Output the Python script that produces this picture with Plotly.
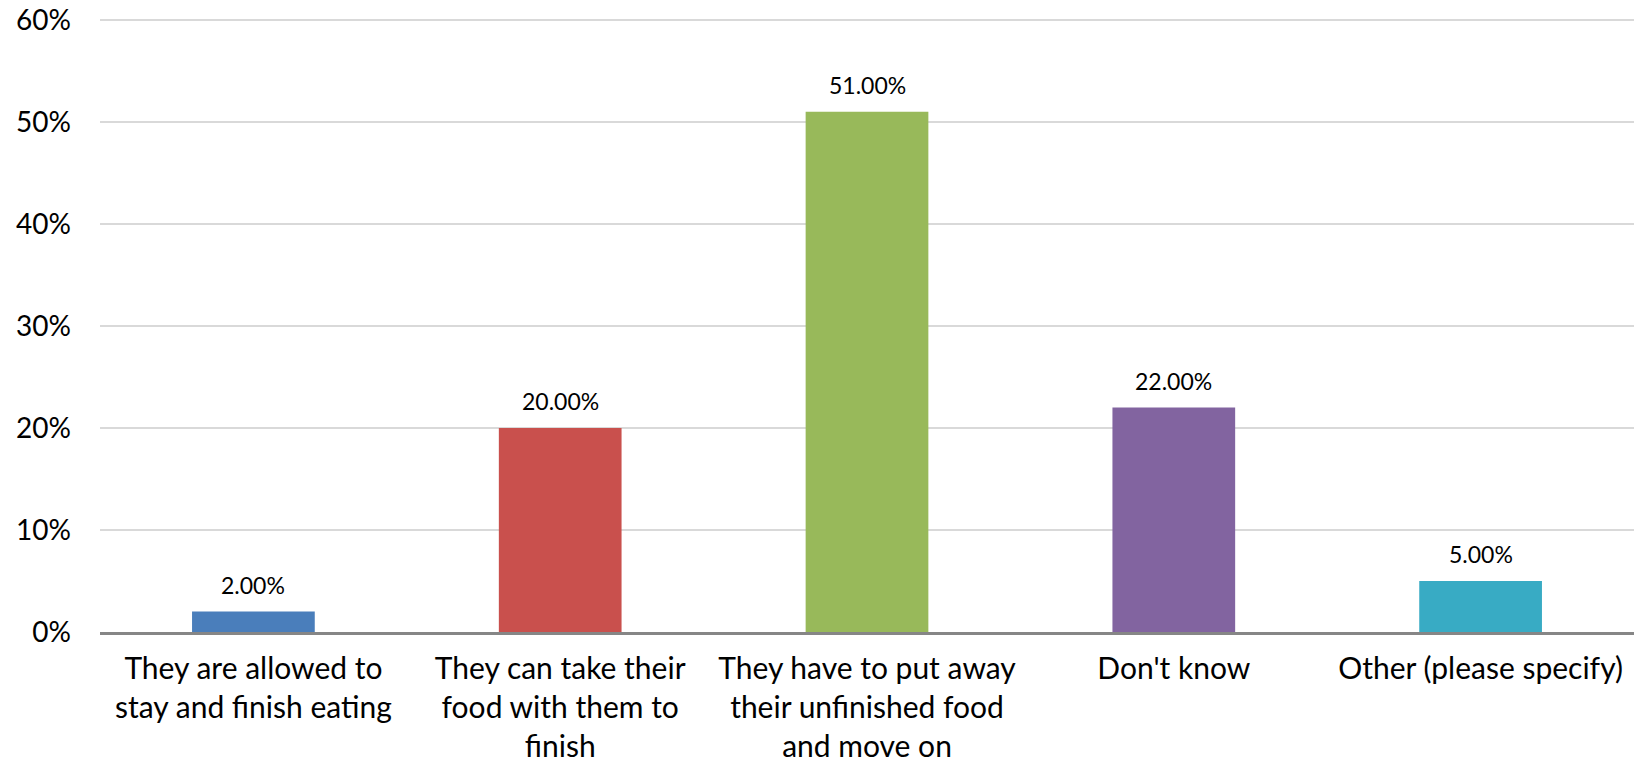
import plotly.graph_objects as go

categories = [
    "They are allowed to<br>stay and finish eating",
    "They can take their<br>food with them to<br>finish",
    "They have to put away<br>their unfinished food<br>and move on",
    "Don't know",
    "Other (please specify)",
]
values = [0.02, 0.20, 0.51, 0.22, 0.05]
labels = ["2.00%", "20.00%", "51.00%", "22.00%", "5.00%"]
colors = ["#4a7ebb", "#c9504d", "#98b95a", "#8264a0", "#38abc4"]
ytick_vals = [0, 0.1, 0.2, 0.3, 0.4, 0.5, 0.6]
ytick_text = ["0%", "10%", "20%", "30%", "40%", "50%", "60%"]

FONT = "Lato"

fig = go.Figure(go.Bar(x=categories, y=values, marker_color=colors, marker_line_width=0, hoverinfo="skip"))

for c, v, t in zip(categories, values, labels):
    fig.add_annotation(x=c, y=v, text=t, showarrow=False, yanchor="bottom", yshift=11,
                       font=dict(family=FONT, size=23, color="#000000"))

fig.update_layout(
    width=1637, height=765,
    margin=dict(l=100, r=3, t=19, b=133),
    paper_bgcolor="white", plot_bgcolor="white",
    bargap=0.6, showlegend=False,
    font=dict(family=FONT, size=30, color="#000000"),
)
fig.update_yaxes(range=[0, 0.601], tickvals=ytick_vals, ticktext=ytick_text,
                 showgrid=True, gridcolor="#d9d9d9", gridwidth=2, zeroline=False,
                 showline=False, ticks="", ticklabelstandoff=28, automargin=False,
                 tickfont=dict(family=FONT, size=28))
fig.update_xaxes(showline=True, linecolor="#868686", linewidth=2.5, ticks="", automargin=False,
                 ticklabelstandoff=8, tickfont=dict(family=FONT, size=30), tickangle=0)

fig.write_html("out.html", config={"displayModeBar": False},
               post_script="document.body.style.margin='0';document.body.style.overflow='hidden';")
